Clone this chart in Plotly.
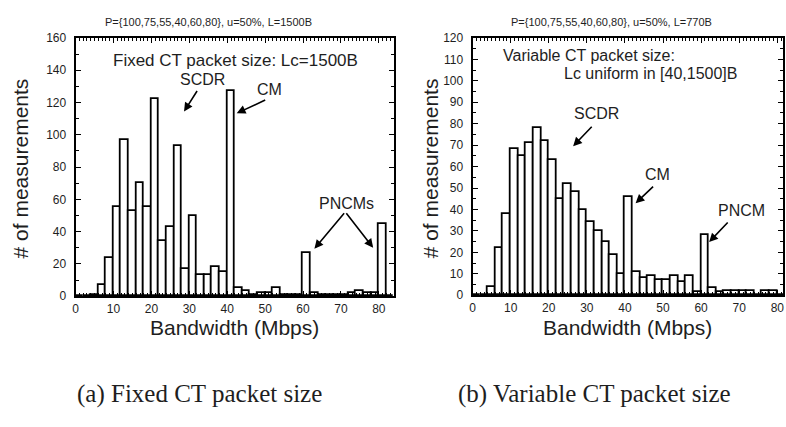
import plotly.graph_objects as go

# ---------------- data ----------------
bin_width = 2
bin_left_a = list(range(0, 84, 2))
counts_a = [0, 0, 1, 7, 24, 55, 97, 53, 70, 55,
            122, 34, 43, 93, 17, 50, 13, 13, 18, 15,
            127, 5, 3, 0.5, 2, 2, 5, 0.5, 0.5, 0.5,
            27, 2, 0.5, 0.5, 0.5, 0.5, 2, 3, 2, 2,
            45, 0]

bin_left_b = list(range(0, 82, 2))
counts_b = [0, 0, 4, 22, 38, 68, 65, 71, 78, 72,
            63, 45, 52, 48, 40, 34, 30, 25, 19, 10,
            46, 11, 8, 9, 7, 7, 9, 6, 9, 1.5,
            28, 3.5, 1.5, 2, 2, 2, 2, 0, 2, 2,
            0]

title_a = "P={100,75,55,40,60,80}, u=50%, L=1500B"
title_b = "P={100,75,55,40,60,80}, u=50%, L=770B"
caption_a = "(a) Fixed CT packet size"
caption_b = "(b) Variable CT packet size"
xlabel = "Bandwidth (Mbps)"
ylabel = "# of measurements"

W, H = 786, 427
SANS = "Liberation Sans, Arial, sans-serif"
SERIF = "Liberation Serif, Times New Roman, serif"
INK = "#1e1e1e"

centers_a = [b + bin_width / 2 for b in bin_left_a]
centers_b = [b + bin_width / 2 for b in bin_left_b]

bar_style = dict(color="white", line=dict(color="black", width=1.8))

fig = go.Figure()
fig.add_trace(go.Bar(x=centers_a, y=counts_a, width=bin_width, marker=bar_style,
                     xaxis="x", yaxis="y", showlegend=False, hoverinfo="skip"))
fig.add_trace(go.Bar(x=centers_b, y=counts_b, width=bin_width, marker=bar_style,
                     xaxis="x2", yaxis="y2", showlegend=False, hoverinfo="skip"))


def px(x):
    return x / W


def py(y):
    return 1 - y / H


tickfont = dict(family=SANS, size=12, color=INK)
ax_common = dict(ticks="inside", ticklen=5, tickwidth=1.3, tickcolor="black",
                 showline=True, linecolor="black", linewidth=2, mirror="ticks",
                 showgrid=False, zeroline=False, tickfont=tickfont, fixedrange=True)

fig.update_layout(
    width=W, height=H,
    margin=dict(l=0, r=0, t=0, b=0),
    paper_bgcolor="white", plot_bgcolor="white",
    bargap=0,
    xaxis=dict(domain=[px(73), px(393)], anchor="y", range=[0, 84], dtick=10, tick0=0,
               minor=dict(dtick=1, ticks="inside", ticklen=3, tickcolor="black", showgrid=False),
               **ax_common),
    yaxis=dict(domain=[py(299), py(32)], anchor="x", range=[0, 160], dtick=20, tick0=0,
               ticklabelstandoff=5,
               minor=dict(dtick=10, ticks="inside", ticklen=3, tickcolor="black", showgrid=False),
               **ax_common),
    xaxis2=dict(domain=[px(472), px(784)], anchor="y2", range=[0, 81.5], dtick=10, tick0=0,
                minor=dict(dtick=1, ticks="inside", ticklen=3, tickcolor="black", showgrid=False),
                **ax_common),
    yaxis2=dict(domain=[py(298), py(32)], anchor="x2", range=[0, 120], dtick=10, tick0=0,
                ticklabelstandoff=5,
                minor=dict(dtick=5, ticks="inside", ticklen=3, tickcolor="black", showgrid=False),
                **ax_common),
)

ann = []


def text_paper(x, y, t, size, family=SANS, angle=0):
    ann.append(dict(x=px(x), y=py(y), xref="paper", yref="paper", text=t, showarrow=False,
                    xanchor="center", yanchor="middle", textangle=angle,
                    font=dict(family=family, size=size, color=INK)))


def text_data(x, y, t, xr, yr, size=16):
    ann.append(dict(x=x, y=y, xref=xr, yref=yr, text=t, showarrow=False,
                    xanchor="center", yanchor="middle",
                    font=dict(family=SANS, size=size, color=INK)))


def arrow(x, y, dx, dy, xr, yr):
    ann.append(dict(x=x, y=y, xref=xr, yref=yr, text="", showarrow=True,
                    ax=dx, ay=dy, axref="pixel", ayref="pixel",
                    arrowhead=2, arrowsize=1.1, arrowwidth=1.6, arrowcolor="black"))


# titles above panels
text_paper(207, 15, title_a, 11)
text_paper(612, 15, title_b, 11)
# axis titles
text_paper(233, 331, xlabel, 21)
text_paper(628, 331, xlabel, 21)
text_paper(18, 167, ylabel, 21, angle=-90)
text_paper(430, 167, ylabel, 21, angle=-90)
# captions
text_paper(198, 400, caption_a, 25, family=SERIF)
text_paper(595, 400, caption_b, 25, family=SERIF)

# panel (a) annotations
text_data(42.3, 146.2, "Fixed CT packet size: Lc=1500B", "x", "y", 17)
text_data(33.6, 134.2, "SCDR", "x", "y", 16)
arrow(28.6, 114.4, 14, -22, "x", "y")
text_data(51.2, 128.2, "CM", "x", "y", 16)
arrow(42.5, 113.3, 30, -14, "x", "y")
text_data(71.4, 57.5, "PNCMs", "x", "y", 16)
arrow(63.0, 29.4, 31, -37, "x", "y")
arrow(78.5, 30.0, -28, -36, "x", "y")

# panel (b) annotations
text_data(30.5, 112.0, "Variable CT packet size:", "x2", "y2", 16)
text_data(46.7, 103.2, "Lc uniform in [40,1500]B", "x2", "y2", 16)
text_data(32.6, 84.8, "SCDR", "x2", "y2", 16)
arrow(26.4, 69.5, 20, -21, "x2", "y2")
text_data(48.6, 56.4, "CM", "x2", "y2", 16)
arrow(42.8, 42.9, 19, -18, "x2", "y2")
text_data(70.5, 39.7, "PNCM", "x2", "y2", 16)
arrow(62.1, 24.8, 20, -21, "x2", "y2")

fig.update_layout(annotations=ann)

fig.write_html("out.html")
